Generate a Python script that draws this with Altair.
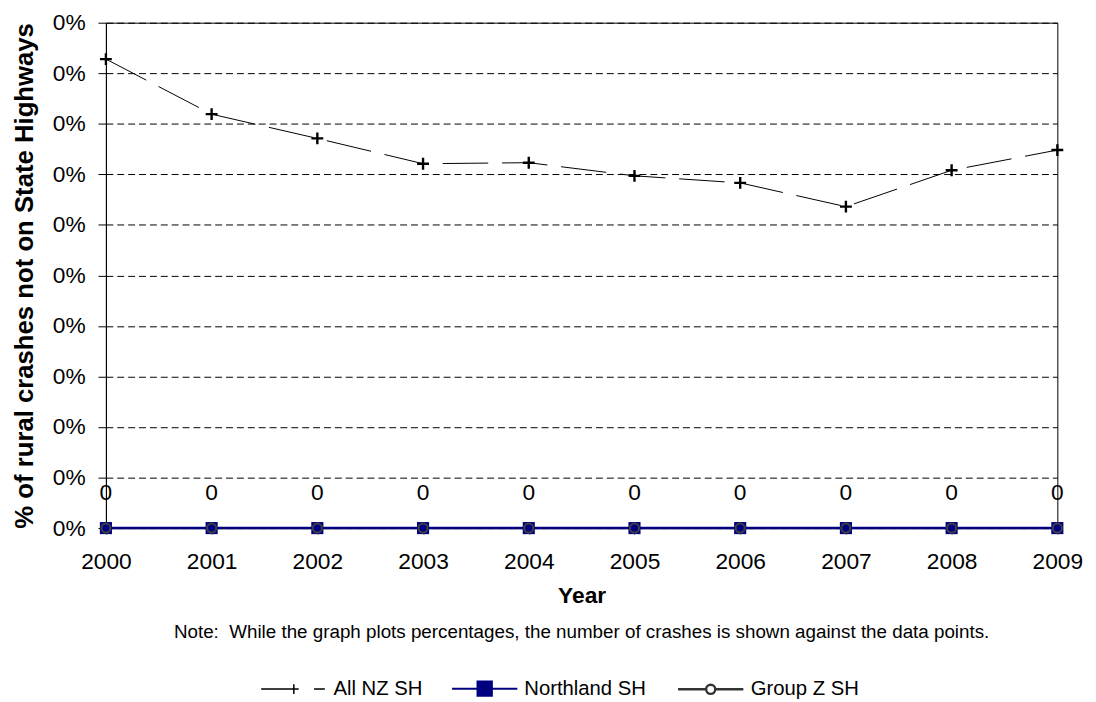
import altair as alt
import pandas as pd

years = [2000, 2001, 2002, 2003, 2004, 2005, 2006, 2007, 2008, 2009]
all_nz_sh = [0.000928, 0.000819, 0.000771, 0.000721, 0.000723, 0.000697, 0.000683, 0.000636, 0.000708, 0.000748]
northland_sh = [0, 0, 0, 0, 0, 0, 0, 0, 0, 0]
group_z_sh = [0, 0, 0, 0, 0, 0, 0, 0, 0, 0]
crash_counts = [0, 0, 0, 0, 0, 0, 0, 0, 0, 0]

series_names = ["All NZ SH", "Northland SH", "Group Z SH"]
y_ticks = [0, 0.0001, 0.0002, 0.0003, 0.0004, 0.0005, 0.0006, 0.0007, 0.0008, 0.0009, 0.001]

y_title = "% of rural crashes not on State Highways"
note = "Note:\u00a0 While the graph plots percentages, the number of crashes is shown against the data points."

df = pd.DataFrame({
    "year": years,
    "allnz": all_nz_sh,
    "northland": northland_sh,
    "groupz": group_z_sh,
    "count": crash_counts,
})
legend_df = pd.DataFrame({"series": series_names})

FONT = "Liberation Sans"
NAVY = "#000080"

x_enc = alt.X(
    "year:Q",
    scale=alt.Scale(domain=[2000, 2009], nice=False, zero=False),
    axis=alt.Axis(
        values=years, format="d", title="Year", grid=False,
        labelFontSize=23, titleFontSize=23, titleFontWeight="bold",
        tickSize=6, labelPadding=17, titlePadding=11,
        domainColor="black", tickColor="black", labelColor="black", titleColor="black",
        labelFlush=False,
    ),
)

y_scale = alt.Scale(domain=[0, 0.001], nice=False, zero=True)
y_axis = alt.Axis(
    values=y_ticks, format=".0%", title=y_title, grid=True,
    gridDash=[7, 4], gridColor="black", gridWidth=1, gridOpacity=1,
    labelFontSize=23, titleFontSize=26, titleFontWeight="bold",
    tickSize=8, labelPadding=13, titlePadding=15,
    domainColor="black", tickColor="black", labelColor="black", titleColor="black",
)


def y_enc(field):
    return alt.Y(field + ":Q", scale=y_scale, axis=y_axis, title=y_title)


base = alt.Chart(df)

groupz_line = base.mark_line(color="#333333", strokeWidth=1).encode(x=x_enc, y=y_enc("groupz"))
north_line = base.mark_line(color=NAVY, strokeWidth=2.5).encode(x=x_enc, y=y_enc("northland"))
allnz_line = base.mark_line(color="black", strokeWidth=1, strokeDash=[46, 14]).encode(x=x_enc, y=y_enc("allnz"))
allnz_pts = base.mark_point(shape="M-1,0H1M0,-1V1", size=144, color="black", strokeWidth=2.4,
                            filled=False, opacity=1).encode(x=x_enc, y=y_enc("allnz"))
north_pts = base.mark_point(shape="square", size=150, filled=True, color=NAVY, opacity=1).encode(
    x=x_enc, y=y_enc("northland"))
groupz_pts = base.mark_point(shape="circle", size=85, filled=False, color="#404040", strokeWidth=2,
                             opacity=1).encode(x=x_enc, y=y_enc("groupz"))
count_labels = base.mark_text(dy=-35, fontSize=23, color="black", font=FONT).encode(
    x=x_enc, y=y_enc("groupz"), text="count:Q")

leg = alt.Legend(title=None)
legend_layer = alt.Chart(legend_df).transform_filter("false").mark_point(opacity=1).encode(
    color=alt.Color("series:N", scale=alt.Scale(domain=series_names, range=["black", NAVY, "#333333"]),
                    legend=leg),
    fill=alt.Fill("series:N", scale=alt.Scale(domain=series_names, range=["white", NAVY, "white"]),
                  legend=leg),
    shape=alt.Shape("series:N", scale=alt.Scale(
        domain=series_names,
        range=[
            "M-1,0H0M-0.15,0H0.15M0,-0.15V0.15M0.62,0H0.95",
            "M-1,0H1M-0.22,-0.22H0.22V0.22H-0.22Z",
            "M-1,0H-0.14M0.14,0A0.14,0.14 0 1,1 -0.14,0A0.14,0.14 0 1,1 0.14,0ZM0.14,0H1",
        ]), legend=leg),
    strokeWidth=alt.StrokeWidth("series:N", scale=alt.Scale(domain=series_names, range=[1.5, 2.5, 1.2]),
                                legend=leg),
)

chart = alt.layer(
    groupz_line, north_line, allnz_line, north_pts, groupz_pts, allnz_pts, count_labels, legend_layer
).properties(
    width=962, height=511,
    padding={"left": 3, "top": 0, "right": 5, "bottom": 0},
    title=alt.TitleParams(text=note, orient="bottom", anchor="middle", frame="group",
                          fontSize=19, fontWeight="normal", font=FONT, color="black", offset=-78),
).configure(
    font=FONT,
).configure_view(
    stroke="black", strokeWidth=1,
).configure_legend(
    orient="none", legendX=156, legendY=639, direction="horizontal",
    labelFontSize=20.5, labelFont=FONT, labelColor="black",
    symbolSize=4356, labelOffset=6, columnPadding=26, padding=0,
    symbolOpacity=1,
)

chart.save("out.html", embed_options={"renderer": "svg", "actions": False})
